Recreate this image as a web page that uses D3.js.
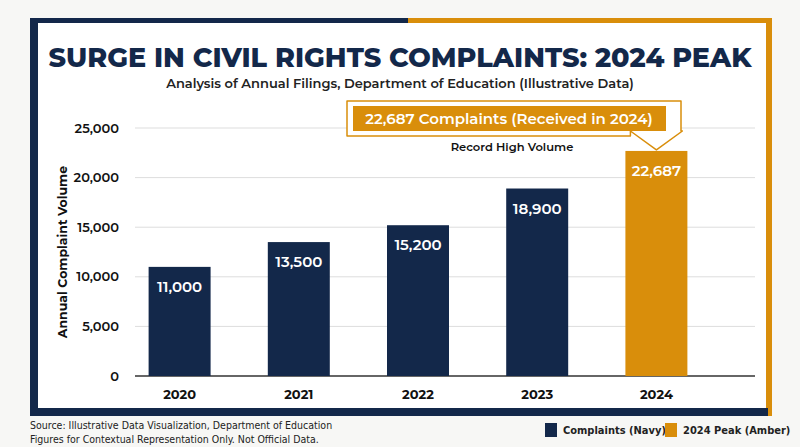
<!DOCTYPE html>
<html><head><meta charset="utf-8">
<script src="https://cdn.jsdelivr.net/npm/d3@7"></script>
<style>body{margin:0;background:#f7f7f5}svg{display:block}</style>
</head><body><svg id="c" width="800" height="447"></svg>
<script>
const years = ["2020","2021","2022","2023","2024"];
const complaints = [11000,13500,15200,18900,22687];
const yTicks = [0,5000,10000,15000,20000,25000];
const navy="#13284a", amber="#d98e0b";
const svg=d3.select("#c");
const F="Montserrat, 'Open Sans', 'DejaVu Sans', sans-serif";
svg.append("rect").attr("width",800).attr("height",447).attr("fill","#f7f7f5");
svg.append("rect").attr("x",34).attr("y",22).attr("width",734).attr("height",390).attr("fill","#fff");
svg.append("rect").attr("x",30).attr("y",18).attr("width",378).attr("height",5).attr("fill",navy);
svg.append("rect").attr("x",408).attr("y",18).attr("width",364).attr("height",5).attr("fill",amber);
svg.append("rect").attr("x",30).attr("y",18).attr("width",8).attr("height",398).attr("fill",navy);
svg.append("rect").attr("x",766).attr("y",18).attr("width",6).attr("height",398).attr("fill",amber);
svg.append("rect").attr("x",30).attr("y",408).attr("width",738).attr("height",8).attr("fill",navy);

svg.append("text").attr("x",400).attr("y",67).attr("text-anchor","middle").attr("font-family",F)
 .attr("font-weight",800).attr("font-size",27).attr("fill",navy).text("SURGE IN CIVIL RIGHTS COMPLAINTS: 2024 PEAK");
svg.append("text").attr("x",400).attr("y",88).attr("text-anchor","middle").attr("font-family",F)
 .attr("font-weight",600).attr("font-size",13).attr("fill","#222").text("Analysis of Annual Filings, Department of Education (Illustrative Data)");

const x=d3.scaleBand().domain(years).range([120,716]).paddingInner(0.48).paddingOuter(0.24);
const y=d3.scaleLinear().domain([0,25000]).range([376,128]);
const g=svg.append("g");
g.selectAll(".gl").data(yTicks).join("line").attr("x1",135).attr("x2",755)
 .attr("y1",d=>y(d)).attr("y2",d=>y(d)).attr("stroke",d=>d===0?"#333":"#ddd").attr("stroke-width",d=>d===0?1.5:1);
const ya=svg.append("g").attr("transform","translate(122,0)").call(d3.axisLeft(y).tickValues(yTicks).tickSize(0).tickFormat(d3.format(",")));
ya.select(".domain").remove();
ya.selectAll("text").attr("font-family",F).attr("font-weight",600).attr("font-size",13).attr("fill","#111");
const xa=svg.append("g").attr("transform","translate(0,380)").call(d3.axisBottom(x).tickSize(0));
xa.select(".domain").remove();
xa.selectAll("text").attr("dy","1.2em").attr("font-family",F).attr("font-weight",700).attr("font-size",13).attr("fill","#111");
svg.append("text").attr("transform","translate(67,252) rotate(-90)").attr("text-anchor","middle").attr("font-family",F)
 .attr("font-weight",700).attr("font-size",12.5).attr("fill","#111").text("Annual Complaint Volume");

g.selectAll(".bar").data(complaints).join("rect").attr("x",(d,i)=>x(years[i])).attr("width",x.bandwidth())
 .attr("y",d=>y(d)).attr("height",d=>y(0)-y(d)).attr("fill",(d,i)=>i===4?amber:navy);
g.selectAll(".bl").data(complaints).join("text").attr("x",(d,i)=>x(years[i])+x.bandwidth()/2).attr("y",d=>y(d)+25)
 .attr("text-anchor","middle").attr("font-family",F).attr("font-weight",600).attr("font-size",15).attr("fill","#fff").text(d3.format(","));

const cx=x("2024")+x.bandwidth()/2;
const ct=svg.append("g");
ct.append("path").attr("d",`M347,101 H681 V131 H${cx+26} L${cx},${y(22687)-1} L${cx-26},131 V136 H347 Z`)
 .attr("fill","#fff").attr("stroke",amber).attr("stroke-width",1.5).attr("stroke-linejoin","round");
ct.append("rect").attr("x",353).attr("y",106).attr("width",313).attr("height",25).attr("fill",amber);
ct.append("text").attr("x",509).attr("y",124).attr("text-anchor","middle").attr("font-family",F).attr("font-weight",600)
 .attr("font-size",15).attr("fill","#fff").text("22,687 Complaints (Received in 2024)");
svg.append("text").attr("x",512).attr("y",151).attr("text-anchor","middle").attr("font-family",F).attr("font-weight",600)
 .attr("font-size",11.5).attr("fill","#111").text("Record High Volume");

const NF="'Liberation Sans Narrow','DejaVu Sans Condensed',sans-serif";
const ft=svg.append("g").attr("font-family",NF).attr("font-size",10.5).attr("fill","#222");
ft.append("text").attr("x",30).attr("y",429).text("Source: Illustrative Data Visualization, Department of Education");
ft.append("text").attr("x",30).attr("y",443).text("Figures for Contextual Representation Only. Not Official Data.");
const lg=[["Complaints (Navy)",navy,545],["2024 Peak (Amber)",amber,665]];
lg.forEach(([t,c,lx])=>{svg.append("rect").attr("x",lx).attr("y",423).attr("width",12).attr("height",14).attr("fill",c);
 svg.append("text").attr("x",lx+18).attr("y",434).attr("font-family",NF)
 .attr("font-weight",700).attr("font-size",11).attr("fill","#222").text(t);});
</script></body></html>
